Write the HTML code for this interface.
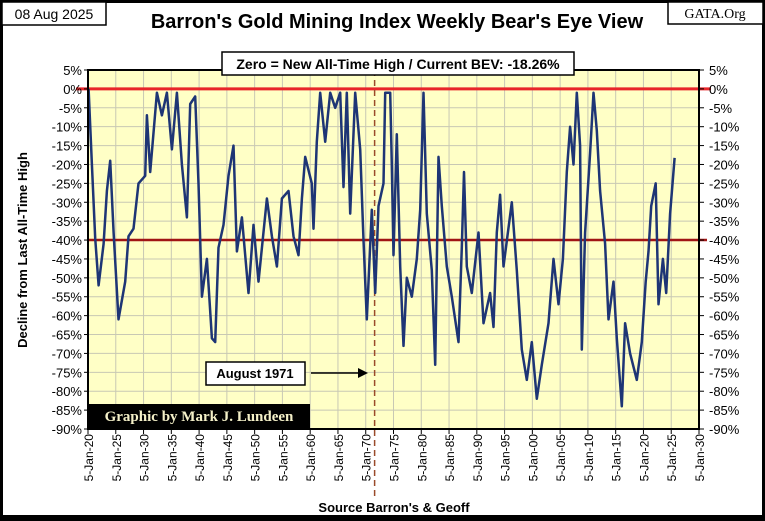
<!DOCTYPE html>
<html><head><meta charset="utf-8"><style>
body{margin:0;background:#fff}
svg{display:block;font-family:"Liberation Sans",sans-serif}
</style></head><body>
<svg id="c" width="765" height="521" viewBox="0 0 765 521">
<rect x="1.5" y="1.5" width="762" height="518" fill="#fff" stroke="#000" stroke-width="3"/>
<rect x="0" y="515" width="765" height="6" fill="#000"/>
<g><rect x="2" y="2" width="104" height="23" fill="#fff" stroke="#000" stroke-width="1.5"/><text x="54" y="19" font-size="14" text-anchor="middle">08 Aug 2025</text></g>
<g><rect x="668" y="2" width="95" height="22" fill="#fff" stroke="#000" stroke-width="1.5"/><text x="715" y="18" font-size="14" text-anchor="middle" font-family="Liberation Serif">GATA.Org</text></g>
<text x="397" y="28" font-size="20" font-weight="bold" text-anchor="middle">Barron's Gold Mining Index Weekly Bear's Eye View</text>
<rect id="plotbg" x="88" y="70" width="611" height="359" fill="#FFFFC6"/>
<g id="grid"></g>
<g id="ref"></g>
<path id="series" fill="none" stroke="#1E3575" stroke-width="2.5" stroke-linejoin="round"/>
<rect x="88" y="70" width="611" height="359" fill="none" stroke="#000" stroke-width="2"/>
<g id="axes"></g>
<g><rect x="222" y="52" width="352" height="23" fill="#fff" stroke="#000" stroke-width="1.5"/><text x="398" y="69" font-size="14" font-weight="bold" text-anchor="middle">Zero = New All-Time High / Current BEV: -18.26%</text></g>
<g><rect x="206" y="362" width="99" height="23" fill="#fff" stroke="#000" stroke-width="1.5"/><text x="255" y="378" font-size="13" font-weight="bold" text-anchor="middle">August 1971</text>
<line x1="311" y1="373" x2="362" y2="373" stroke="#000" stroke-width="1.5"/><path d="M368,373 L358,368 L358,378 Z" fill="#000"/></g>
<g><rect x="88" y="404" width="222" height="25" fill="#000"/><text x="199" y="421" font-size="15" font-weight="bold" fill="#F4F0C8" text-anchor="middle" font-family="Liberation Serif">Graphic by Mark J. Lundeen</text></g>
<text transform="translate(27,250) rotate(-90)" font-size="13" font-weight="bold" text-anchor="middle">Decline from Last All-Time High</text>
<text x="394" y="512" font-size="13" font-weight="bold" text-anchor="middle">Source Barron's &amp; Geoff</text>
</svg>
<script>
const years=[1920.1,1920.7,1921.3,1921.9,1922.8,1923.4,1924,1924.6,1925.5,1926.7,1927.3,1928.2,1929.1,1930.3,1930.6,1931.2,1932.4,1933.3,1934.2,1935.1,1936,1936.9,1937.8,1938.4,1939.3,1939.9,1940.5,1941.4,1942.3,1942.9,1943.5,1944.4,1945.3,1946.2,1946.8,1947.7,1948.9,1949.8,1950.7,1952.2,1953.1,1954,1954.9,1956.1,1957,1957.9,1958.5,1959.1,1960.3,1960.6,1961.2,1961.8,1962.7,1963.6,1964.5,1965.4,1966,1966.6,1967.2,1968.1,1969,1969.6,1970.2,1971.1,1971.7,1972.3,1973.2,1973.5,1974.4,1974.7,1975,1975.6,1976.2,1976.8,1977.4,1978.3,1979.2,1979.8,1980.4,1981,1981.9,1982.5,1983.1,1983.7,1984.6,1985.5,1986.7,1987.3,1987.7,1988.2,1989.1,1990.3,1991.2,1992.4,1993,1993.6,1994.2,1994.8,1996.3,1997.2,1998.1,1999,1999.9,2000.8,2001.7,2002.9,2003.8,2004.7,2005.5,2006.2,2006.8,2007.4,2008,2008.6,2008.9,2009.5,2010.4,2011,2011.6,2012.2,2013.1,2013.7,2014.6,2015.2,2016.1,2016.7,2017.6,2018.8,2019.7,2020.4,2020.9,2021.4,2022.2,2022.7,2023.5,2024.1,2024.8,2025.6];
const bev=[0,-20,-39.5,-52,-41,-27,-19,-38,-61,-51,-39,-37,-25,-23,-7,-22,-1,-7,-1,-16,-1,-20,-34,-4,-2,-25,-55,-45,-66,-67,-42,-36,-23,-15,-43,-34,-54,-36,-51,-29,-39,-47,-29,-27,-39,-44,-29,-18,-25,-37,-14,-1,-14,-1,-5,-1,-26,-1,-33,-1,-16,-40,-61,-32,-54,-31,-25,-1,-1,-20,-44,-12,-47,-68,-50,-55,-45,-32,-1,-33,-48,-73,-18,-31,-47,-55,-67,-42,-22,-47,-54,-38,-62,-54,-63,-38,-28,-47,-30,-48,-69,-77,-67,-82,-73,-62,-45,-57,-45,-22,-10,-20,-1,-15,-69,-38,-17,-1,-11,-27,-41,-61,-51,-66,-84,-62,-70,-77,-67,-51,-43,-31,-25,-57,-45,-54,-33,-18.26];
const yTicks=[5,0,-5,-10,-15,-20,-25,-30,-35,-40,-45,-50,-55,-60,-65,-70,-75,-80,-85,-90];
const xTickYears=[1920,1925,1930,1935,1940,1945,1950,1955,1960,1965,1970,1975,1980,1985,1990,1995,2000,2005,2010,2015,2020,2025,2030];
const xTickLabels=["5-Jan-20","5-Jan-25","5-Jan-30","5-Jan-35","5-Jan-40","5-Jan-45","5-Jan-50","5-Jan-55","5-Jan-60","5-Jan-65","5-Jan-70","5-Jan-75","5-Jan-80","5-Jan-85","5-Jan-90","5-Jan-95","5-Jan-00","5-Jan-05","5-Jan-10","5-Jan-15","5-Jan-20","5-Jan-25","5-Jan-30"];
const refLines=[0,-40];
const markYear=1971.6;
const L=88,R=699,T=70,B=429;
const X=y=>L+(y-1920)/110*(R-L);
const Y=v=>T+(5-v)/95*(B-T);
const NS="http://www.w3.org/2000/svg";
function mk(tag,attrs,parent){const e=document.createElementNS(NS,tag);for(const k in attrs)e.setAttribute(k,attrs[k]);parent.appendChild(e);return e;}
const grid=document.getElementById('grid'),axes=document.getElementById('axes'),ref=document.getElementById('ref');
yTicks.forEach(v=>{const y=Y(v);
 const g=mk('line',{x1:L,x2:R,y1:y,y2:y,stroke:'#C8C8B4','stroke-width':1},grid);
 
 
 const t1=mk('line',{x1:L-4,x2:L,y1:y,y2:y,stroke:'#000'},axes);
 
 
 const t2=mk('line',{x1:R,x2:R+5,y1:y,y2:y,stroke:'#000'},axes);
 
 
 const a=mk('text',{x:L-6,y:y+5,'font-size':13,'text-anchor':'end'},axes);a.textContent=v+'%';
 
 
 const b=mk('text',{x:R+10,y:y+5,'font-size':13},axes);b.textContent=v+'%';
 
 
});
xTickYears.forEach((yr,i)=>{const x=X(yr);
 const g=mk('line',{x1:x,x2:x,y1:T,y2:B,stroke:'#C8C8B4','stroke-width':1},grid);
 
 
 const t=mk('line',{x1:x,x2:x,y1:B,y2:B+5,stroke:'#000'},axes);
 
 
 const l=mk('text',{transform:`translate(${x+5},${B+5}) rotate(-90)`,'font-size':12,'text-anchor':'end'},axes);l.textContent=xTickLabels[i];
 
 
});
refLines.forEach((v,i)=>{const y=Y(v);
 const l=mk('line',{x1:i==0?L-12:L,x2:i==0?R+12:R+8,y1:y,y2:y,stroke:i==0?'#E8262A':'#A01414','stroke-width':i==0?3:2.5},ref);
 
 
});
const mx=X(markYear);
const dl=mk('line',{x1:mx,x2:mx,y1:T,y2:B+68,stroke:'#9A4A2A','stroke-width':1.5,'stroke-dasharray':'6,4'},ref);


document.getElementById('series').setAttribute('d',years.map((yr,i)=>(i?'L':'M')+X(yr).toFixed(1)+','+Y(bev[i]).toFixed(1)).join(' '));
</script>
</body></html>
